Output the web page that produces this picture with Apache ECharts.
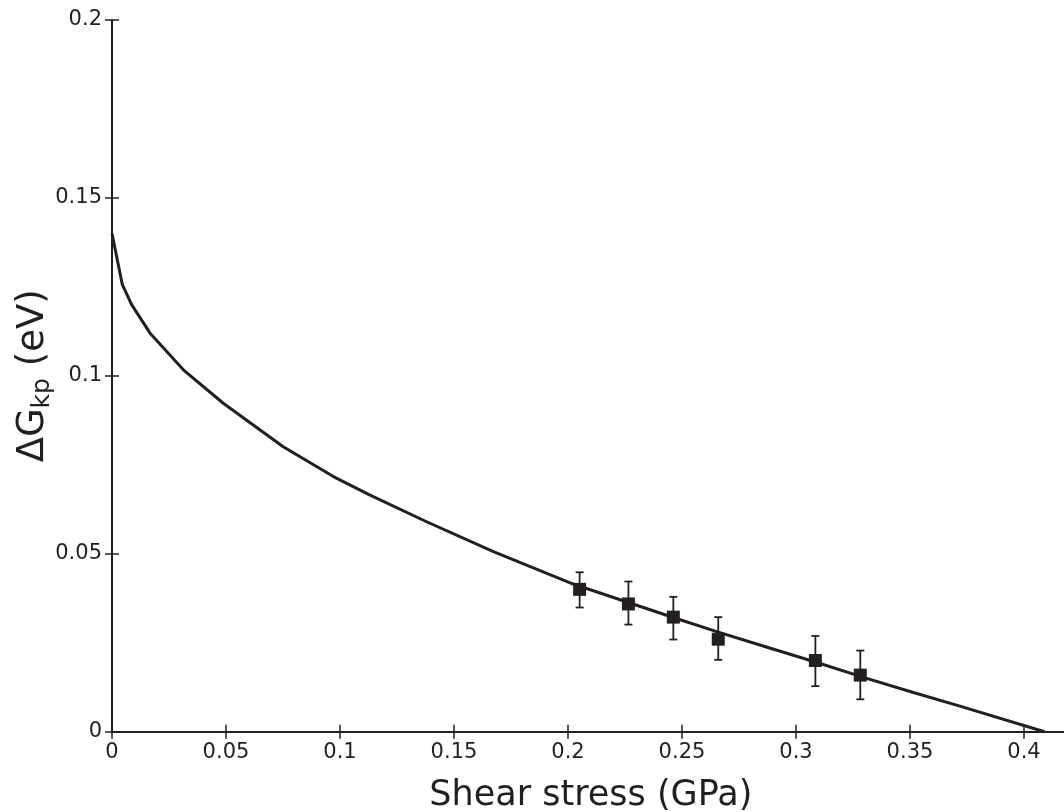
<!DOCTYPE html>
<html>
<head>
<meta charset="utf-8">
<script src="https://cdn.jsdelivr.net/npm/echarts@6/dist/echarts.min.js"></script>
<style>
html,body{margin:0;padding:0;background:#fff;overflow:hidden;}
#c{width:1064px;height:812px;}
</style>
</head>
<body>
<div id="c"></div>
<script>
// Model curve (shear stress GPa, ΔGkp eV)
const curveX = [0, 0.0045, 0.0086, 0.0167, 0.0313, 0.0488, 0.0751, 0.0971, 0.1132, 0.138, 0.1673, 0.2023, 0.2265, 0.2462, 0.2659, 0.287, 0.3085, 0.331, 0.35, 0.3719, 0.409];
const curveY = [0.140, 0.1257, 0.120, 0.112, 0.1017, 0.0923, 0.0801, 0.0717, 0.0665, 0.059, 0.0506, 0.0415, 0.0363, 0.0321, 0.0280, 0.0238, 0.0196, 0.0150, 0.0113, 0.0072, 0.0];
// Experimental points with error bars
const expX = [0.2051, 0.2265, 0.2462, 0.2659, 0.3085, 0.3282];
const expY = [0.0400, 0.0359, 0.0322, 0.0260, 0.0200, 0.0159];
const errLow = [0.0349, 0.0301, 0.0259, 0.0202, 0.0128, 0.0091];
const errHigh = [0.0448, 0.0422, 0.0379, 0.0322, 0.0269, 0.0228];

const INK = '#231f20';
const chart = echarts.init(document.getElementById('c'), null, {renderer: 'canvas', width: 1064, height: 812});

const curveData = curveX.map((x, i) => [x, curveY[i]]);
const expData = expX.map((x, i) => [x, expY[i]]);
const errData = expX.map((x, i) => [x, errLow[i], errHigh[i]]);

const tickLabel = {color: INK, fontFamily: 'DejaVu Sans', fontSize: 21};
const tickStyle = {show: true, inside: true, length: 7, lineStyle: {color: INK, width: 1.5}};

chart.setOption({
  animation: false,
  backgroundColor: '#fff',
  grid: {left: 112, top: 20, bottom: 80.3, width: 957.6, containLabel: false, outerBoundsMode: 'none'},
  xAxis: [{
    type: 'value', min: 0, max: 0.42, interval: 0.05, position: 'bottom',
    name: 'Shear stress (GPa)', nameLocation: 'middle', nameGap: 47,
    nameTextStyle: {color: INK, fontFamily: 'DejaVu Sans', fontSize: 35},
    axisLine: {show: true, lineStyle: {color: INK, width: 2}},
    axisTick: tickStyle,
    axisLabel: Object.assign({margin: 10, showMaxLabel: false}, tickLabel),
    splitLine: {show: false}
  }, {
    type: 'value', min: 0, max: 0.42, interval: 0.05, position: 'top',
    axisLine: {show: true, lineStyle: {color: INK, width: 2}},
    axisTick: tickStyle,
    axisLabel: {show: false}, splitLine: {show: false}
  }],
  yAxis: [{
    type: 'value', min: 0, max: 0.2, interval: 0.05, position: 'left',
    name: '{m|ΔG}{s|kp}{m| (eV)}', nameLocation: 'middle', nameGap: 58, nameRotate: 90,
    nameMoveOverlap: false,
    nameTextStyle: {
      color: INK, fontFamily: 'DejaVu Sans',
      rich: {
        m: {fontFamily: 'DejaVu Sans', fontSize: 37, color: INK, lineHeight: 42},
        s: {fontFamily: 'DejaVu Sans', fontSize: 25, color: INK, padding: [18, 0, 0, 0], lineHeight: 42}
      }
    },
    axisLine: {show: true, lineStyle: {color: INK, width: 2}},
    axisTick: tickStyle,
    axisLabel: Object.assign({margin: 10}, tickLabel),
    splitLine: {show: false}
  }, {
    type: 'value', min: 0, max: 0.2, interval: 0.05, position: 'right',
    axisLine: {show: true, lineStyle: {color: INK, width: 2}},
    axisTick: tickStyle,
    axisLabel: {show: false}, splitLine: {show: false}
  }],
  series: [{
    type: 'line', xAxisIndex: 0, yAxisIndex: 0,
    data: curveData, showSymbol: false, symbol: 'none',
    smooth: false,
    lineStyle: {color: INK, width: 3, join: 'round'},
    z: 2
  }, {
    type: 'custom', xAxisIndex: 0, yAxisIndex: 0,
    data: errData,
    encode: {x: 0, y: [1, 2]},
    renderItem: function (params, api) {
      const x = api.value(0);
      const lo = api.coord([x, api.value(1)]);
      const hi = api.coord([x, api.value(2)]);
      const hw = 4;
      const st = {stroke: INK, lineWidth: 1.8};
      return {
        type: 'group',
        children: [
          {type: 'line', shape: {x1: lo[0], y1: lo[1], x2: hi[0], y2: hi[1]}, style: st},
          {type: 'line', shape: {x1: lo[0] - hw, y1: lo[1], x2: lo[0] + hw, y2: lo[1]}, style: st},
          {type: 'line', shape: {x1: hi[0] - hw, y1: hi[1], x2: hi[0] + hw, y2: hi[1]}, style: st}
        ]
      };
    },
    z: 3
  }, {
    type: 'scatter', xAxisIndex: 0, yAxisIndex: 0,
    data: expData, symbol: 'rect', symbolSize: 13,
    itemStyle: {color: INK, opacity: 1},
    z: 4
  }]
});
</script>
</body>
</html>
